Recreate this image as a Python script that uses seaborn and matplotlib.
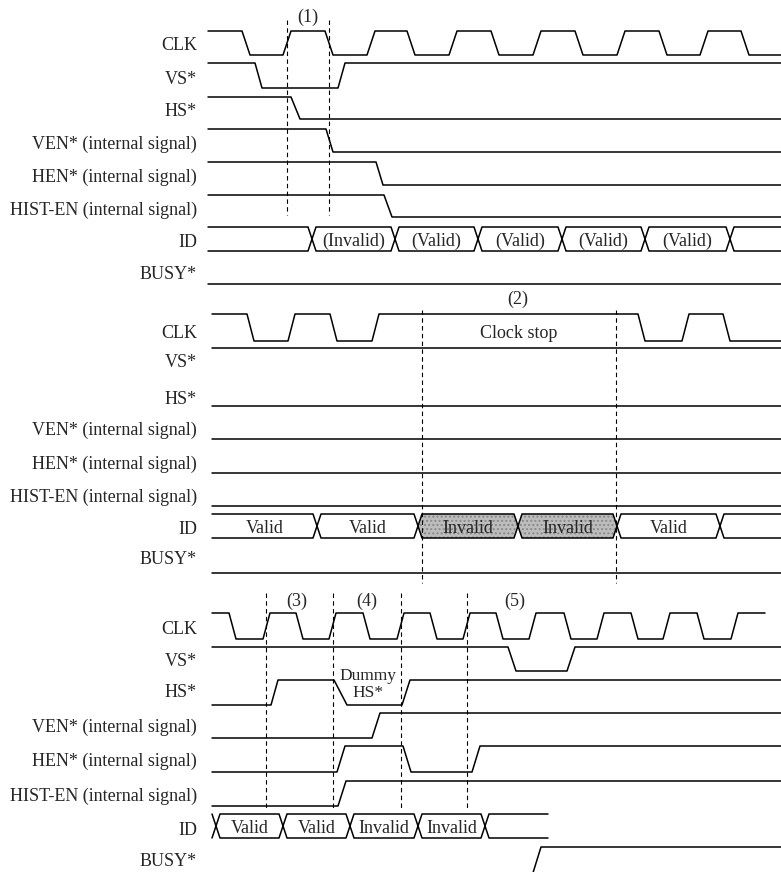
import numpy as np
import pandas as pd
import matplotlib
matplotlib.use("Agg")
import matplotlib.pyplot as plt
import seaborn as sns

sns.set_theme(style="white")
plt.rcParams['font.family'] = ['Liberation Serif', 'DejaVu Serif']

# ---------------- data (edge times) ----------------
signal_names = ["CLK", "VS*", "HS*", "VEN* (internal signal)", "HEN* (internal signal)",
                "HIST-EN (internal signal)", "ID", "BUSY*"]

# Panel 1
clk1_edges = [242, 283, 325, 367, 407, 449, 491, 533, 575, 617, 659, 700, 741]
vs1_edges = [255, 338]
hs1_edges = [291]
ven1_edges = [326]
hen1_edges = [376]
hist1_edges = [384]
id1_cross = [312, 395, 478, 562, 645, 730]
id1_labels = ["", "(Invalid)", "(Valid)", "(Valid)", "(Valid)", "(Valid)", ""]
marks1 = [287, 329]

# Panel 2
clk2_edges = [247, 288, 330, 372, 638, 682, 723]
id2_cross = [317, 418, 518, 617, 720]
id2_labels = ["Valid", "Valid", "Invalid", "Invalid", "Valid", ""]
id2_shaded = [2, 3]
marks2 = [422, 616]

# Panel 3
clk3_edges = [229, 263, 296, 329, 363, 397, 430, 463, 496, 529, 564, 597, 631, 663, 697, 731]
vs3_edges = [508, 567]
hs3_edges = [271, 334, 402]
hs3_slews = [7, 13, 8]
ven3_edges = [372]
hen3_edges = [337, 403, 472]
hist3_edges = [338]
busy3_edges = [532]
id3_cross = [216, 283, 350, 418, 485]
id3_labels = ["", "Valid", "Valid", "Invalid", "Invalid", ""]
marks3 = [266, 333, 401, 467]
marks3_labels = ["(3)", "(4)", "(5)"]

# ---------------- helpers ----------------
rows = []
dash_rows = []
trace_id = [0]
TY = 2  # small vertical nudge so text sits like the scanned original


def add_trace(xs, ys, store=rows):
    t = trace_id[0]
    trace_id[0] += 1
    for x, y in zip(xs, ys):
        store.append({"x": x, "y": y, "trace": t})


def wave(x0, x1, edges, start_high, y_high, y_low, slew=8):
    if np.isscalar(slew):
        slew = [slew] * len(edges)
    lvl = start_high
    xs = [x0]
    ys = [y_high if lvl else y_low]
    for e, s in zip(edges, slew):
        xs.append(e)
        ys.append(y_high if lvl else y_low)
        lvl = not lvl
        xs.append(e + s)
        ys.append(y_high if lvl else y_low)
    xs.append(x1)
    ys.append(y_high if lvl else y_low)
    add_trace(xs, ys)


def bus(ax, x0, x1, crosses, top, bot, labels, shaded=(), h=4, fs=13):
    xa, ya, xb, yb = [x0], [top], [x0], [bot]
    state = 0
    for c in crosses:
        xa += [c - h, c + h]
        xb += [c - h, c + h]
        if state == 0:
            ya += [top, bot]
            yb += [bot, top]
        else:
            ya += [bot, top]
            yb += [top, bot]
        state = 1 - state
    xa.append(x1)
    xb.append(x1)
    ya.append(ya[-1])
    yb.append(yb[-1])
    add_trace(xa, ya)
    add_trace(xb, yb)
    bounds = [x0] + list(crosses) + [x1]
    mid = (top + bot) / 2
    for i, lab in enumerate(labels):
        a, b = bounds[i], bounds[i + 1]
        if i in shaded:
            px = [a, a + h, b - h, b, b - h, a + h]
            py = [mid, top, top, mid, bot, bot]
            ax.fill(px, py, facecolor="#bdbdbd", edgecolor="#8a8a8a", hatch="....",
                    linewidth=0, zorder=1)
        if lab:
            ax.text((a + b) / 2, mid + TY, lab, ha="center", va="center", fontsize=fs, zorder=3)


def flat(x0, x1, y):
    add_trace([x0, x1], [y, y])


def marks(xs, y0, y1):
    for x in xs:
        add_trace([x, x], [y0, y1], store=dash_rows)


# ---------------- figure ----------------
fig = plt.figure(figsize=(7.81, 8.72), dpi=100)
ax = fig.add_axes([0, 0, 1, 1])
ax.set_xlim(0, 781)
ax.set_ylim(872, 0)
ax.axis("off")

# Panel 1
wave(208, 781, clk1_edges, True, 31, 55, 8)
wave(208, 781, vs1_edges, True, 63, 88, 7)
wave(208, 781, hs1_edges, True, 97, 119, 9)
wave(208, 781, ven1_edges, True, 129, 152, 7)
wave(208, 781, hen1_edges, True, 162, 185, 7)
wave(208, 781, hist1_edges, True, 195, 217, 8)
bus(ax, 208, 781, id1_cross, 227, 251, id1_labels)
flat(208, 781, 284)
marks(marks1, 20, 215)
ax.text(308, 15 + TY, "(1)", ha="center", va="center", fontsize=13)

# Panel 2
wave(212, 781, clk2_edges, True, 314, 341, 7)
flat(212, 781, 348)
flat(212, 781, 406)
flat(212, 781, 439)
flat(212, 781, 473)
flat(212, 781, 506)
bus(ax, 212, 781, id2_cross, 514, 538, id2_labels, shaded=id2_shaded)
flat(212, 781, 573)
marks(marks2, 310, 583)
ax.text(518, 297 + TY, "(2)", ha="center", va="center", fontsize=13)
ax.text(519, 331 + TY, "Clock stop", ha="center", va="center", fontsize=13)

# Panel 3
wave(212, 765, clk3_edges, True, 613, 639, 7)
wave(212, 781, vs3_edges, True, 647, 671, 8)
wave(212, 781, hs3_edges, False, 680, 705, hs3_slews)
wave(212, 781, ven3_edges, False, 713, 738, 8)
wave(212, 781, hen3_edges, False, 746, 772, 8)
wave(212, 781, hist3_edges, False, 781, 806, 8)
bus(ax, 212, 548, id3_cross, 814, 838, id3_labels)
wave(212, 781, busy3_edges, False, 847, 876, 9)
marks(marks3, 593, 810)
for xm, lab in zip([297, 367, 515], marks3_labels):
    ax.text(xm, 599 + TY, lab, ha="center", va="center", fontsize=13)
ax.text(368, 674 + TY, "Dummy", ha="center", va="center", fontsize=12.5)
ax.text(368, 691 + TY, "HS*", ha="center", va="center", fontsize=12.5)

# Row labels
label_y = {
    1: [44, 77, 110, 142, 175, 208, 240, 272],
    2: [331, 360, 397, 428, 462, 495, 527, 557],
    3: [627, 659, 690, 725, 759, 794, 828, 859],
}
for p, ys in label_y.items():
    for name, y in zip(signal_names, ys):
        ax.text(197, y + TY, name, ha="right", va="center", fontsize=13)

df = pd.DataFrame(rows)
sns.lineplot(data=df, x="x", y="y", units="trace", estimator=None, sort=False,
             color="black", linewidth=1.1, ax=ax, legend=False)
ddf = pd.DataFrame(dash_rows)
sns.lineplot(data=ddf, x="x", y="y", units="trace", estimator=None, sort=False,
             color="black", linewidth=0.8, linestyle=(0, (4, 3)), ax=ax, legend=False)
ax.set_xlim(0, 781)
ax.set_ylim(872, 0)
ax.axis("off")

fig.savefig("out.png", dpi=100)
